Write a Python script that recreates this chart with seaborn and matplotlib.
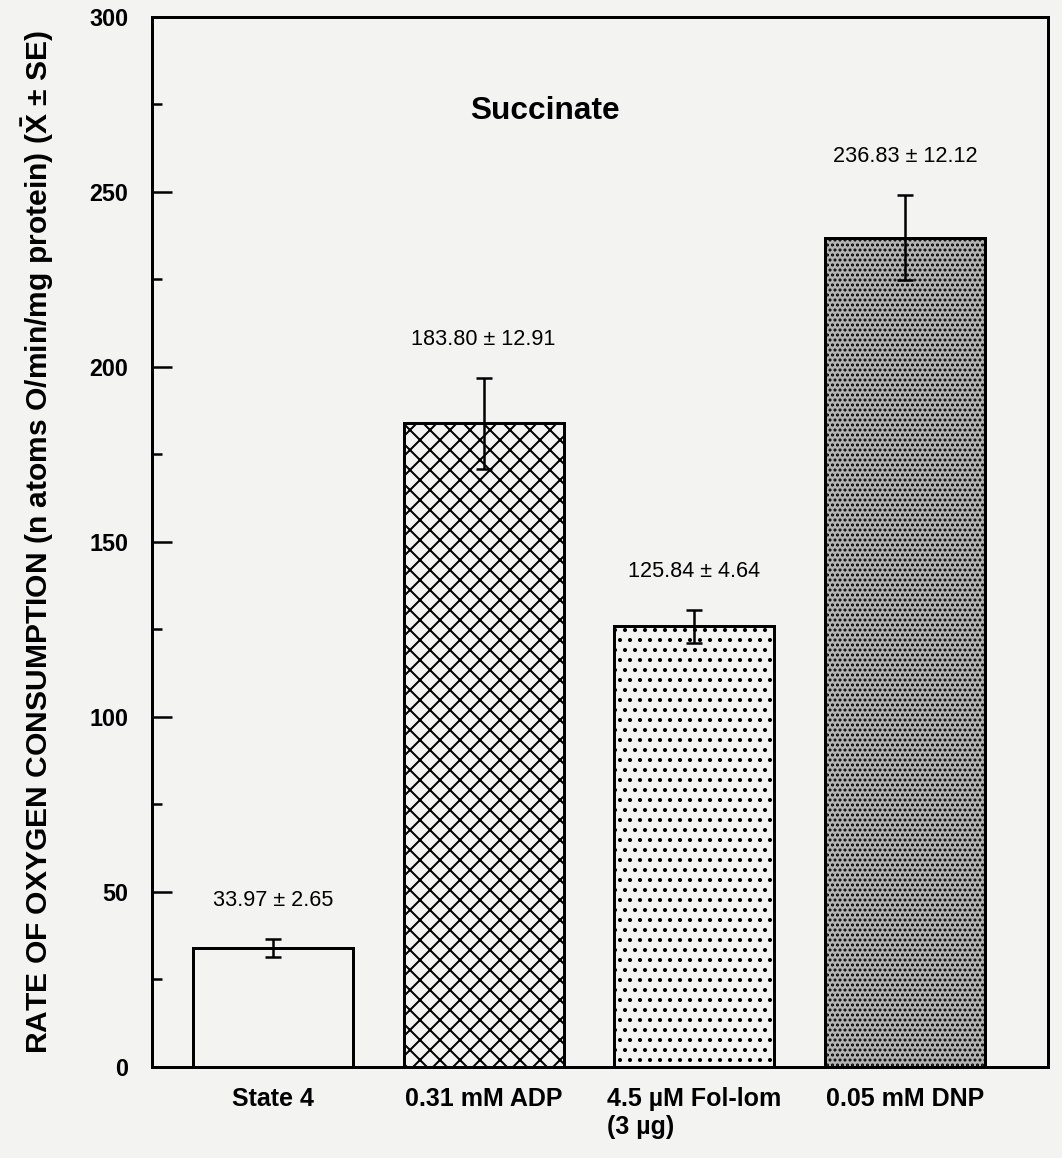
import numpy as np
import pandas as pd
import seaborn as sns
import matplotlib
matplotlib.use("Agg")
import matplotlib.pyplot as plt

# values
categories = ["State 4", "0.31 mM ADP", "4.5 µM Fol-lom\n(3 µg)", "0.05 mM DNP"]
means = [33.97, 183.80, 125.84, 236.83]
ses = [2.65, 12.91, 4.64, 12.12]
hatches = ["", "xx", "..", "...."]
faces = ["#f3f3f1", "#f3f3f1", "#f3f3f1", "#b4b4b4"]

sns.set_style("ticks")
plt.rcParams["font.family"] = ["Liberation Sans", "DejaVu Sans"]
plt.rcParams["hatch.linewidth"] = 1.2
plt.rcParams["text.color"] = "black"
plt.rcParams["axes.labelcolor"] = "black"
plt.rcParams["xtick.color"] = "black"
plt.rcParams["ytick.color"] = "black"
plt.rcParams["mathtext.fontset"] = "custom"
plt.rcParams["mathtext.rm"] = "Liberation Sans"
plt.rcParams["mathtext.bf"] = "Liberation Sans:bold"

bg = "#f3f3f1"
df = pd.DataFrame({"cond": categories, "rate": means})

fig = plt.figure(figsize=(8.85, 9.65), dpi=120, facecolor=bg)
ax = fig.add_axes([0.143, 0.0786, 0.844, 0.907])
ax.set_facecolor(bg)

sns.barplot(data=df, x="cond", y="rate", order=categories, color=bg,
            edgecolor="black", linewidth=1.8, width=0.76, errorbar=None,
            saturation=1, ax=ax)
for p, h, fc in zip(ax.patches, hatches, faces):
    p.set_hatch(h)
    p.set_facecolor(fc)

x = np.arange(len(categories))
ax.errorbar(x, means, yerr=ses, fmt="none", ecolor="black", elinewidth=1.5,
            capsize=5, capthick=1.5, zorder=5)

for xi, m, s in zip(x, means, ses):
    ax.text(xi, m + s + 11, f"{m:.2f} ± {s:.2f}", ha="center", va="center",
            fontsize=13)

ax.text(1.29, 273, "Succinate", ha="center", va="center", fontsize=19,
        fontweight="bold")

ax.set_xlim(-0.575, 3.68)
ax.set_ylim(0, 300)
ax.set_yticks(range(0, 301, 50))
ax.set_yticks(range(25, 300, 50), minor=True)
ax.tick_params(axis="y", which="major", direction="in", length=12, width=1.5,
               labelsize=14, pad=14)
ax.tick_params(axis="y", which="minor", direction="in", length=6, width=1.5)
ax.tick_params(axis="x", direction="in", length=9, width=1.5, labelsize=15,
               pad=12)
for lab in ax.get_yticklabels():
    lab.set_fontweight("bold")
for lab in ax.get_xticklabels():
    lab.set_fontweight("bold")
    lab.set_multialignment("left")
    lab.set_verticalalignment("top")

for sp in ax.spines.values():
    sp.set_visible(True)
    sp.set_linewidth(1.8)
    sp.set_color("black")

ax.set_xlabel("")
ax.set_ylabel(r"RATE OF OXYGEN CONSUMPTION (n atoms O/min/mg protein) ($\mathbf{\bar{X}}$ ± SE)",
              fontsize=18, fontweight="bold", labelpad=20)

fig.savefig("out.png", dpi=120, facecolor=bg)
